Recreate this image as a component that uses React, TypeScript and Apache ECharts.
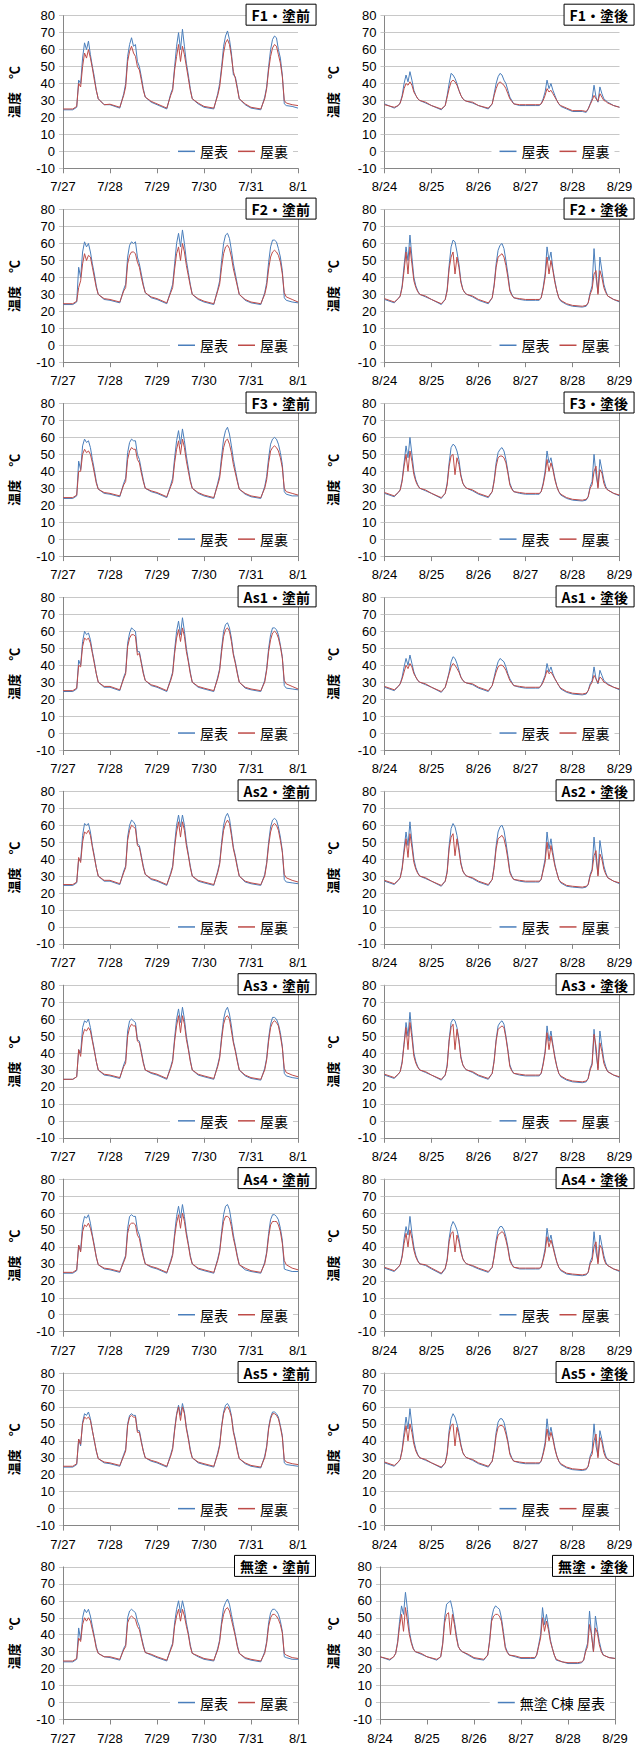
import React, { useEffect, useRef } from 'react';
import * as echarts from 'echarts';

// hours of each day at which a reading is kept (per day), final point at 120 h
const HOURS = [0, 5, 7, 8, 9, 10, 11, 12, 13, 14, 15, 16, 17, 18, 21];
const BEFORE_DATES = ['7/27', '7/28', '7/29', '7/30', '7/31', '8/1'];
const AFTER_DATES = ['8/24', '8/25', '8/26', '8/27', '8/28', '8/29'];
const Y_MIN = -10;
const Y_MAX = 80;
const Y_STEP = 10;

// ---------- 塗前 (before) ----------
const F1_BEFORE_TOP = [
  24.5, 24.5, 26, 42, 40, 55, 64, 60, 65, 57, 50, 44, 36, 31, 27.5,
  27.5, 25.5, 34, 40, 56, 63, 67, 62, 63, 53, 50, 44, 37, 32, 29,
  27.5, 25, 34, 37, 50, 62, 70, 60, 72, 62, 52, 45, 37, 31, 28,
  26, 25, 34, 40, 50, 62, 68, 71, 66, 58, 45, 44, 38, 31, 27.5,
  25.5, 24.5, 32, 38, 50, 60, 66, 68, 67, 60, 55, 45, 28, 27, 26.5,
  25.5];
const F1_BEFORE_BACK = [
  25, 25, 26.5, 40, 38, 50, 58, 55, 60, 55, 49, 42, 36, 31, 27.5,
  27.8, 26, 33, 38, 53, 59, 62, 58, 56, 50, 48, 42, 36, 32, 29.5,
  28, 25.5, 33, 36, 48, 56, 63, 53, 62, 57, 50, 43, 36, 31, 28.5,
  26.5, 25.5, 33, 38, 48, 58, 64, 66, 63, 56, 47, 43, 37, 31, 28,
  26, 25, 31, 37, 48, 56, 61, 63, 62, 57, 52, 44, 30, 28.5, 27.5,
  27];
const F2_BEFORE_TOP = [
  24, 24, 25.5, 46, 40, 55, 61, 58, 60, 55, 48, 42, 35, 30, 27,
  26.5, 25, 33, 36, 52, 59, 61, 60, 61, 52, 48, 42, 36, 31, 28,
  27, 24.5, 32, 36, 48, 60, 66, 58, 68, 60, 50, 43, 36, 30, 27,
  25.5, 24, 33, 38, 50, 60, 65, 66, 63, 56, 48, 42, 36, 30, 26.5,
  25, 24, 31, 37, 49, 58, 62, 62, 61, 57, 52, 44, 28, 26.5, 25.5,
  25];
const F2_BEFORE_BACK = [
  24.5, 24.5, 26, 34, 38, 48, 54, 50, 53, 52, 46, 40, 34, 30, 27.5,
  27, 25.5, 32, 34, 48, 53, 55, 55, 54, 49, 46, 40, 35, 31, 28.5,
  27.5, 25, 31, 34, 45, 54, 58, 50, 60, 55, 47, 41, 35, 30, 27.5,
  26, 24.5, 32, 36, 46, 54, 58, 59, 57, 52, 45, 40, 35, 30, 27,
  25.5, 24.5, 30, 35, 45, 52, 55, 56, 55, 53, 49, 42, 31, 28.5, 27,
  25.5];
const F3_BEFORE_TOP = [
  24, 24, 25.5, 46, 41, 55, 59, 57, 58, 54, 47, 41, 34, 29.5, 27,
  26.5, 25, 33, 36, 51, 57, 59, 58, 58, 50, 47, 41, 35, 30, 28,
  27, 24.5, 32, 36, 48, 58, 64, 56, 65, 58, 49, 42, 35, 30, 27,
  25.5, 24, 33, 38, 49, 59, 64, 66, 62, 55, 47, 41, 35, 29.5, 26.5,
  25, 24, 31, 37, 48, 56, 59, 60, 59, 56, 51, 44, 28, 26.5, 25.5,
  25.5];
const F3_BEFORE_BACK = [
  24.5, 24.5, 26, 40, 40, 50, 53, 51, 52, 50, 45, 39, 33, 29.5, 27.5,
  27, 25.5, 32, 34, 47, 52, 54, 53, 53, 47, 45, 39, 34, 30, 28.5,
  27.5, 25, 31, 34, 45, 53, 58, 50, 59, 54, 46, 40, 34, 30, 27.5,
  26, 24.5, 32, 36, 46, 54, 58, 59, 56, 51, 44, 39, 34, 29.5, 27,
  25.5, 24.5, 30, 35, 45, 52, 54, 55, 54, 52, 48, 42, 30, 28, 27,
  26];
const AS1_BEFORE_TOP = [
  24.5, 24.5, 26, 43, 40, 54, 60, 58, 59, 55, 48, 42, 35, 30, 27,
  27, 25, 33, 36, 53, 59, 62, 61, 60, 48, 48, 42, 36, 31, 28,
  27, 24.5, 32, 36, 49, 60, 66, 58, 68, 60, 50, 43, 36, 30, 27,
  26, 24.5, 33, 38, 50, 60, 64, 65, 62, 56, 47, 42, 36, 30, 26.5,
  25.5, 24.5, 31, 38, 50, 58, 62, 62, 61, 58, 52, 45, 28, 26.5, 26,
  25.5];
const AS1_BEFORE_BACK = [
  25, 25, 26.5, 40, 39, 51, 56, 55, 56, 53, 47, 41, 35, 30, 27.5,
  27.5, 25.5, 32, 35, 51, 56, 58, 58, 57, 46, 47, 41, 35, 31, 28.5,
  27.5, 25, 31, 35, 47, 56, 61, 54, 62, 57, 48, 42, 35, 30, 27.5,
  26.5, 25, 32, 37, 48, 57, 61, 62, 60, 54, 46, 41, 35, 30, 27,
  26, 25, 30, 37, 48, 55, 59, 60, 59, 56, 51, 44, 31, 29, 27.5,
  26];
const AS2_BEFORE_TOP = [
  24.5, 24.5, 26, 40, 39, 54, 61, 60, 61, 56, 48, 42, 35, 30, 27,
  27, 25, 33, 36, 53, 60, 63, 62, 60, 49, 48, 42, 36, 31, 28,
  27, 24.5, 32, 36, 49, 60, 66, 59, 66, 60, 50, 43, 36, 30, 27,
  26, 24.5, 33, 38, 50, 60, 65, 67, 64, 56, 47, 42, 36, 30, 26.5,
  25.5, 24.5, 31, 38, 50, 59, 63, 64, 63, 59, 53, 45, 28, 26.5, 26,
  25.5];
const AS2_BEFORE_BACK = [
  25, 25, 26.5, 41, 38, 50, 56, 55, 57, 54, 47, 41, 35, 30, 27.5,
  27.5, 25.5, 32, 35, 51, 57, 60, 59, 58, 48, 47, 41, 35, 31, 28.5,
  27.5, 25, 31, 35, 47, 56, 62, 53, 62, 57, 48, 42, 35, 30, 27.5,
  26.5, 25, 32, 37, 48, 57, 61, 63, 61, 54, 46, 41, 35, 30, 27,
  26, 25, 30, 37, 48, 56, 60, 61, 60, 57, 51, 44, 31, 29, 27.5,
  26.5];
const AS3_BEFORE_TOP = [
  24.5, 24.5, 26, 42, 40, 55, 59, 58, 60, 55, 48, 42, 35, 30, 27,
  26.5, 25, 33, 36, 53, 59, 60, 59, 58, 48, 47, 41, 35, 30, 28,
  27, 24.5, 32, 36, 49, 60, 66, 58, 67, 60, 50, 43, 36, 30, 27,
  26, 24.5, 33, 38, 50, 60, 65, 67, 63, 56, 47, 42, 36, 30, 26.5,
  25, 24, 31, 37, 49, 57, 61, 61, 60, 57, 52, 44, 28, 26.5, 25.5,
  25];
const AS3_BEFORE_BACK = [
  24.5, 24.5, 26, 42, 38, 50, 54, 53, 55, 53, 47, 41, 35, 30, 27.5,
  27, 25.5, 32, 34, 50, 55, 57, 56, 56, 47, 46, 40, 34, 30, 28.5,
  27.5, 25, 31, 35, 47, 56, 62, 52, 62, 57, 48, 42, 35, 30, 27.5,
  26.5, 25, 32, 37, 48, 57, 61, 62, 60, 53, 46, 41, 35, 30, 27,
  25.5, 24.5, 30, 36, 47, 55, 58, 59, 58, 56, 50, 43, 31, 28.5, 27,
  26];
const AS4_BEFORE_TOP = [
  24.5, 24.5, 26, 41, 38, 53, 58, 57, 59, 54, 47, 41, 34, 29.5, 27,
  26.5, 25, 32, 35, 51, 58, 59, 58, 58, 50, 47, 41, 35, 30, 28,
  27, 24.5, 32, 36, 48, 58, 64, 57, 65, 58, 49, 42, 35, 30, 27,
  26, 24.5, 33, 38, 49, 59, 64, 65, 62, 55, 47, 41, 35, 29.5, 26.5,
  25.5, 24.5, 31, 37, 48, 56, 59, 59, 58, 56, 51, 44, 27, 26.5, 25.5,
  25.5];
const AS4_BEFORE_BACK = [
  25, 25, 26.5, 41, 37, 49, 53, 52, 54, 51, 46, 40, 34, 29.5, 27.5,
  27, 25.5, 31, 34, 48, 53, 54, 54, 53, 47, 45, 39, 34, 30, 28.5,
  27.5, 25, 31, 35, 46, 54, 59, 51, 60, 55, 47, 41, 34, 30, 27.5,
  26.5, 25, 32, 37, 47, 55, 58, 58, 57, 52, 45, 40, 34, 29.5, 27.5,
  26, 25, 30, 36, 46, 53, 55, 55, 55, 53, 49, 42, 32, 29.5, 27.5,
  26.5];
const AS5_BEFORE_TOP = [
  24.5, 24.5, 26, 41, 37, 51, 56, 55, 57, 53, 46, 40, 34, 29.5, 27,
  26.5, 25, 32, 35, 50, 55, 56, 55, 55, 46, 46, 40, 34, 30, 28,
  27, 24.5, 32, 36, 47, 56, 61, 55, 62, 57, 48, 42, 35, 30, 27,
  26, 24.5, 33, 38, 49, 57, 61, 62, 60, 55, 46, 41, 35, 29.5, 26.5,
  25, 24, 31, 37, 48, 54, 57, 57, 56, 54, 49, 43, 27, 26, 25.5,
  25];
const AS5_BEFORE_BACK = [
  25, 25, 26.5, 41, 38, 50, 54, 53, 54, 52, 46, 40, 34, 29.5, 27.5,
  27, 25.5, 31, 34, 49, 54, 55, 54, 54, 45, 45, 39, 34, 30, 28.5,
  27.5, 25, 31, 35, 46, 55, 60, 52, 60, 56, 47, 41, 34, 30, 27.5,
  26.5, 25, 32, 37, 48, 56, 59, 60, 58, 54, 45, 40, 34, 29.5, 27,
  25.5, 24.5, 30, 36, 47, 53, 56, 56, 55, 53, 48, 42, 29, 27.5, 26.5,
  26];
const MUTO_BEFORE_TOP = [
  24, 24, 25.5, 44, 37, 50, 55, 53, 55, 51, 45, 39, 33, 29, 27,
  26.5, 25, 32, 34, 50, 54, 55, 54, 53, 48, 45, 39, 34, 29.5, 28,
  26.5, 24.5, 32, 35, 47, 55, 60, 53, 60, 55, 47, 41, 34, 29, 27,
  25.5, 24.5, 32, 37, 48, 56, 59, 61, 58, 52, 46, 40, 34, 29, 26,
  25, 24, 30, 36, 47, 53, 55, 55, 54, 52, 48, 42, 27, 26.5, 25.5,
  25.5];
const MUTO_BEFORE_BACK = [
  24.5, 24.5, 26, 38, 36, 46, 50, 48, 50, 48, 43, 38, 32, 29, 27,
  27, 25.5, 31, 33, 47, 50, 51, 50, 49, 45, 43, 38, 33, 29.5, 28.5,
  27, 25, 31, 34, 45, 51, 55, 48, 55, 51, 45, 40, 33, 29, 27.5,
  26, 25, 31, 36, 46, 52, 55, 56, 54, 49, 44, 39, 33, 29, 26.5,
  25.5, 24.5, 29, 35, 45, 50, 52, 52, 51, 49, 46, 41, 29, 28, 26.5,
  26];

// ---------- 塗後 (after) ----------
const F1_AFTER_TOP = [
  28, 25.5, 27, 28.5, 33, 40, 45, 41, 47, 42, 36, 33, 31, 30, 28.5,
  27, 24.5, 27, 33, 40, 46, 45, 43, 40, 36, 33, 31, 30, 29.5, 28.5,
  27, 25, 28, 34, 40, 44, 46, 45, 42, 40, 36, 32, 30, 28, 27,
  27, 27, 27, 28, 31, 35, 42, 37, 40, 36, 33, 30, 28, 26.5, 25,
  23.5, 23.5, 23, 25, 28, 31, 39, 32, 29, 38, 34, 31, 30, 29, 27,
  26];
const F1_AFTER_BACK = [
  27.5, 26, 27, 28.5, 32, 37, 40, 39, 41, 39, 35, 33, 31, 30, 29,
  27, 25, 27, 32, 37, 41, 42, 41, 39, 36, 33, 31, 30, 29.5, 29,
  27, 25.5, 28, 33, 37, 40, 41, 40, 39, 37, 34, 31, 29.5, 28, 27.5,
  27.5, 27.5, 27.5, 28, 30, 33, 37, 35, 36, 34, 32, 30, 28, 27, 25.5,
  24, 24, 23.5, 25, 27.5, 30, 33, 31, 29.5, 34, 32, 30, 29.5, 28.5, 27,
  26];
const F2_AFTER_TOP = [
  27, 25, 27.5, 29, 35, 47, 58, 50, 65, 52, 40, 35, 32, 30, 28.5,
  27, 24, 27, 33, 47, 58, 62, 61, 55, 48, 38, 33, 31, 30, 28.5,
  26.5, 24.5, 28, 36, 48, 56, 59, 60, 57, 50, 42, 33, 30, 28, 27,
  26.5, 26.5, 26.5, 28, 34, 42, 58, 50, 55, 45, 38, 32, 28, 26, 24,
  23, 22.5, 23, 25, 31, 35, 57, 40, 31, 52, 44, 36, 32, 29, 27,
  25.5];
const F2_AFTER_BACK = [
  27.5, 25.5, 27.5, 29, 34, 44, 55, 42, 58, 48, 38, 34, 31.5, 30, 29,
  27, 24.5, 27, 32, 45, 52, 55, 42, 52, 46, 37, 33, 31, 30, 29,
  27, 25, 28, 35, 46, 52, 53, 54, 52, 47, 40, 32, 29.5, 28, 27.5,
  27, 27, 27, 28, 33, 40, 52, 42, 50, 44, 37, 32, 28, 26.5, 24.5,
  23.5, 23, 23.5, 25, 30, 33, 42, 44, 30, 44, 40, 34, 31, 29, 27,
  26];
const F3_AFTER_TOP = [
  27, 25, 27.5, 29, 35, 45, 55, 48, 60, 50, 40, 35, 32, 30, 28.5,
  27, 24, 27, 33, 45, 54, 56, 55, 52, 47, 38, 33, 31, 30, 28.5,
  26.5, 24.5, 28, 35, 45, 51, 53, 54, 52, 47, 40, 33, 30, 28, 27,
  26.5, 26.5, 26.5, 28, 33, 40, 52, 45, 48, 42, 36, 31, 28, 26, 24,
  23, 22.5, 23, 25, 31, 34, 50, 38, 31, 47, 41, 35, 31, 29, 27,
  25.5];
const F3_AFTER_BACK = [
  27.5, 25.5, 27.5, 29, 34, 43, 50, 40, 52, 46, 38, 34, 31.5, 30, 29,
  27, 24.5, 27, 32, 43, 49, 50, 38, 48, 44, 37, 33, 31, 30, 29,
  27, 25, 28, 34, 43, 48, 49, 49, 48, 45, 39, 32, 29.5, 28, 27.5,
  27, 27, 27, 28, 32, 38, 47, 40, 45, 41, 35, 31, 28, 26.5, 24.5,
  23.5, 23, 23.5, 25, 30, 32, 40, 43, 30, 41, 39, 33, 30, 29, 27,
  26];
const AS1_AFTER_TOP = [
  27, 25, 27.5, 29, 33, 39, 44, 40, 46, 41, 36, 33, 31, 30, 28.5,
  27, 24, 27, 31, 36, 42, 45, 44, 41, 37, 33, 31, 30, 29.5, 28.5,
  26.5, 24.5, 28, 33, 38, 42, 44, 43, 42, 39, 35, 32, 30, 28, 27,
  26.5, 26.5, 26.5, 28, 31, 34, 41, 36, 39, 35, 32, 30, 28, 26, 24,
  23, 22.5, 23, 25, 29, 31, 39, 32, 29, 37, 34, 31, 30, 29, 27,
  25.5];
const AS1_AFTER_BACK = [
  27.5, 25.5, 27.5, 29, 32, 36, 40, 38, 41, 39, 35, 33, 31, 30, 29,
  27, 24.5, 27, 31, 35, 39, 41, 40, 38, 36, 33, 31, 30, 29.5, 29,
  27, 25, 28, 32, 36, 39, 40, 40, 39, 37, 34, 31, 29.5, 28, 27.5,
  27, 27, 27, 28, 30, 33, 37, 35, 36, 34, 32, 30, 28, 26.5, 24.5,
  23.5, 23, 23.5, 25, 28, 30, 34, 32, 29.5, 33, 32, 30, 29.5, 28.5, 27,
  26];
const AS2_AFTER_TOP = [
  27, 25, 27.5, 29, 35, 46, 56, 48, 62, 50, 40, 35, 32, 30, 28.5,
  27, 24, 27, 33, 48, 58, 61, 59, 54, 47, 38, 33, 31, 30, 28.5,
  26.5, 24.5, 28, 36, 48, 56, 59, 60, 57, 50, 42, 33, 30, 28, 27,
  26.5, 26.5, 26.5, 28, 34, 40, 56, 46, 52, 44, 37, 32, 28, 26, 24,
  23.5, 23, 23.5, 25, 31, 34, 53, 40, 31, 51, 43, 36, 32, 29, 27,
  25.5];
const AS2_AFTER_BACK = [
  27.5, 25.5, 27.5, 29, 34, 44, 52, 41, 55, 47, 38, 34, 31.5, 30, 29,
  27, 24.5, 27, 32, 46, 53, 55, 42, 52, 45, 37, 33, 31, 30, 29,
  27, 25, 28, 35, 46, 52, 53, 54, 52, 47, 40, 32, 29.5, 28, 27.5,
  27, 27, 27, 28, 33, 38, 50, 40, 48, 42, 36, 32, 28, 26.5, 24.5,
  24, 23.5, 24, 25, 30, 33, 42, 45, 30, 43, 40, 34, 31, 29, 27,
  26];
const AS3_AFTER_TOP = [
  27, 25, 27.5, 29, 35, 46, 58, 50, 64, 52, 40, 35, 32, 30, 28.5,
  27, 24, 27, 33, 48, 58, 60, 59, 55, 48, 38, 33, 31, 30, 28.5,
  26.5, 24.5, 28, 36, 48, 56, 58, 59, 57, 50, 42, 33, 30, 28, 27,
  26.5, 26.5, 26.5, 28, 34, 41, 56, 47, 53, 45, 38, 32, 28, 26, 24,
  23, 22.5, 23, 25, 31, 34, 54, 40, 31, 53, 44, 36, 32, 29, 27,
  25.5];
const AS3_AFTER_BACK = [
  27.5, 25.5, 27.5, 29, 34, 45, 55, 42, 58, 49, 38, 34, 31.5, 30, 29,
  27, 24.5, 27, 32, 47, 55, 57, 42, 54, 47, 37, 33, 31, 30, 29,
  27, 25, 28, 35, 47, 54, 55, 56, 55, 49, 41, 32, 29.5, 28, 27.5,
  27, 27, 27, 28, 33, 40, 52, 42, 50, 44, 37, 32, 28, 26.5, 24.5,
  23.5, 23, 23.5, 25, 30, 33, 51, 44, 30, 46, 41, 34, 31, 29, 27,
  26];
const AS4_AFTER_TOP = [
  27.5, 25.5, 28, 29.5, 35, 45, 52, 47, 58, 48, 40, 35, 32, 30, 29,
  27, 24, 27, 33, 45, 52, 55, 53, 50, 45, 38, 33, 31, 30, 28.5,
  27, 25, 28, 35, 44, 50, 52, 52, 50, 46, 40, 33, 30, 28, 27,
  27, 27, 27, 28, 33, 39, 51, 43, 47, 41, 36, 31, 28, 26, 24,
  23.5, 23, 23.5, 25, 31, 34, 49, 37, 31, 47, 41, 35, 31, 29, 27,
  25.5];
const AS4_AFTER_BACK = [
  28, 26, 28, 29.5, 34, 42, 48, 40, 50, 45, 38, 34, 31.5, 30, 29.5,
  27.5, 24.5, 27.5, 32, 43, 48, 49, 37, 47, 43, 37, 33, 31, 30, 29,
  27.5, 25.5, 28, 34, 42, 47, 48, 49, 48, 44, 39, 32, 29.5, 28, 27.5,
  27.5, 27.5, 27.5, 28, 32, 37, 46, 40, 44, 40, 35, 31, 28, 26.5, 24.5,
  24, 23.5, 24, 25, 30, 32, 40, 43, 30, 41, 39, 33, 30, 29, 27,
  26];
const AS5_AFTER_TOP = [
  27, 25, 27.5, 29, 35, 45, 54, 47, 59, 49, 40, 35, 32, 30, 28.5,
  27, 24, 27, 33, 46, 53, 56, 54, 50, 45, 38, 33, 31, 30, 28.5,
  26.5, 24.5, 28, 35, 45, 51, 53, 53, 51, 46, 40, 33, 30, 28, 27,
  26.5, 26.5, 26.5, 28, 33, 39, 53, 43, 48, 42, 36, 31, 28, 26, 24,
  23, 22.5, 23, 25, 31, 34, 50, 37, 31, 46, 41, 35, 31, 29, 27,
  25.5];
const AS5_AFTER_BACK = [
  27.5, 25.5, 27.5, 29, 34, 42, 49, 40, 50, 45, 38, 34, 31.5, 30, 29,
  27, 24.5, 27, 32, 44, 49, 50, 37, 48, 43, 37, 33, 31, 30, 29,
  27, 25, 28, 34, 43, 48, 49, 49, 48, 44, 39, 32, 29.5, 28, 27.5,
  27, 27, 27, 28, 32, 37, 47, 40, 45, 41, 35, 31, 28, 26.5, 24.5,
  23.5, 23, 23.5, 25, 30, 32, 40, 44, 30, 42, 39, 33, 30, 29, 27,
  26];
const MUTO_AFTER_TOP = [
  27, 25, 27, 29, 36, 48, 57, 52, 65, 55, 42, 36, 32, 30, 28.5,
  27, 25, 27, 35, 50, 58, 59, 60, 55, 48, 40, 33, 31, 30, 28,
  26, 25, 28, 37, 50, 55, 57, 56, 55, 50, 42, 33, 30, 28, 27,
  26, 26, 26, 28, 34, 40, 56, 46, 52, 45, 37, 32, 28, 25, 24,
  23, 23, 23.5, 25, 31, 35, 54, 40, 30, 51, 43, 36, 31, 28, 26.5,
  26];
const MUTO_AFTER_BACK = [
  27, 25.5, 27, 29, 35, 45, 52, 42, 56, 48, 40, 35, 31.5, 30, 29,
  27, 25.5, 27, 34, 47, 52, 53, 40, 52, 46, 38, 33, 31, 30, 28.5,
  26.5, 25.5, 28, 36, 48, 51, 52, 52, 51, 48, 40, 32, 29.5, 28, 27.5,
  26.5, 26.5, 26.5, 28, 33, 38, 50, 42, 48, 43, 36, 32, 28, 25.5, 24,
  23.5, 23.5, 24, 25, 30, 33, 46, 40, 30, 44, 41, 34, 30, 28, 26.5,
  26];

const TOP_NAME = '屋表';
const BACK_NAME = '屋裏';
const MUTO_TOP_NAME = '無塗 C棟 屋表';
const Y_NAME = '温度　℃';

const PANELS = [
  { title: 'F1・塗前', dates: BEFORE_DATES, top: F1_BEFORE_TOP, back: F1_BEFORE_BACK, topName: TOP_NAME, legend: [TOP_NAME, BACK_NAME] },
  { title: 'F1・塗後', dates: AFTER_DATES, top: F1_AFTER_TOP, back: F1_AFTER_BACK, topName: TOP_NAME, legend: [TOP_NAME, BACK_NAME] },
  { title: 'F2・塗前', dates: BEFORE_DATES, top: F2_BEFORE_TOP, back: F2_BEFORE_BACK, topName: TOP_NAME, legend: [TOP_NAME, BACK_NAME] },
  { title: 'F2・塗後', dates: AFTER_DATES, top: F2_AFTER_TOP, back: F2_AFTER_BACK, topName: TOP_NAME, legend: [TOP_NAME, BACK_NAME] },
  { title: 'F3・塗前', dates: BEFORE_DATES, top: F3_BEFORE_TOP, back: F3_BEFORE_BACK, topName: TOP_NAME, legend: [TOP_NAME, BACK_NAME] },
  { title: 'F3・塗後', dates: AFTER_DATES, top: F3_AFTER_TOP, back: F3_AFTER_BACK, topName: TOP_NAME, legend: [TOP_NAME, BACK_NAME] },
  { title: 'As1・塗前', dates: BEFORE_DATES, top: AS1_BEFORE_TOP, back: AS1_BEFORE_BACK, topName: TOP_NAME, legend: [TOP_NAME, BACK_NAME] },
  { title: 'As1・塗後', dates: AFTER_DATES, top: AS1_AFTER_TOP, back: AS1_AFTER_BACK, topName: TOP_NAME, legend: [TOP_NAME, BACK_NAME] },
  { title: 'As2・塗前', dates: BEFORE_DATES, top: AS2_BEFORE_TOP, back: AS2_BEFORE_BACK, topName: TOP_NAME, legend: [TOP_NAME, BACK_NAME] },
  { title: 'As2・塗後', dates: AFTER_DATES, top: AS2_AFTER_TOP, back: AS2_AFTER_BACK, topName: TOP_NAME, legend: [TOP_NAME, BACK_NAME] },
  { title: 'As3・塗前', dates: BEFORE_DATES, top: AS3_BEFORE_TOP, back: AS3_BEFORE_BACK, topName: TOP_NAME, legend: [TOP_NAME, BACK_NAME] },
  { title: 'As3・塗後', dates: AFTER_DATES, top: AS3_AFTER_TOP, back: AS3_AFTER_BACK, topName: TOP_NAME, legend: [TOP_NAME, BACK_NAME] },
  { title: 'As4・塗前', dates: BEFORE_DATES, top: AS4_BEFORE_TOP, back: AS4_BEFORE_BACK, topName: TOP_NAME, legend: [TOP_NAME, BACK_NAME] },
  { title: 'As4・塗後', dates: AFTER_DATES, top: AS4_AFTER_TOP, back: AS4_AFTER_BACK, topName: TOP_NAME, legend: [TOP_NAME, BACK_NAME] },
  { title: 'As5・塗前', dates: BEFORE_DATES, top: AS5_BEFORE_TOP, back: AS5_BEFORE_BACK, topName: TOP_NAME, legend: [TOP_NAME, BACK_NAME] },
  { title: 'As5・塗後', dates: AFTER_DATES, top: AS5_AFTER_TOP, back: AS5_AFTER_BACK, topName: TOP_NAME, legend: [TOP_NAME, BACK_NAME] },
  { title: '無塗・塗前', dates: BEFORE_DATES, top: MUTO_BEFORE_TOP, back: MUTO_BEFORE_BACK, topName: TOP_NAME, legend: [TOP_NAME, BACK_NAME] },
  { title: '無塗・塗後', dates: AFTER_DATES, top: MUTO_AFTER_TOP, back: MUTO_AFTER_BACK, topName: MUTO_TOP_NAME, legend: [MUTO_TOP_NAME] },
];

const W = 637;
const H = 1751;
const BLUE = '#4a7ebb';
const RED = '#be4b48';
const AXIS_COLOR = '#868686';
const GRID_COLOR = '#c8c8c8';
const NUM_FONT = "'Liberation Sans', Arial, sans-serif";
const JP_FONT = "'Noto Sans CJK JP', sans-serif";

function toPairs(vals: number[]): number[][] {
  const out: number[][] = [];
  const n = HOURS.length;
  for (let i = 0; i < vals.length - 1; i++) {
    const d = Math.floor(i / n);
    out.push([d * 24 + HOURS[i % n], vals[i]]);
  }
  out.push([120, vals[vals.length - 1]]);
  return out;
}

function buildOption() {
  const grid: any[] = [];
  const xAxis: any[] = [];
  const yAxis: any[] = [];
  const series: any[] = [];
  const legend: any[] = [];
  const title: any[] = [];

  const ROW0 = 15.7;
  const ROW_STEP = 193.9;
  const PLOT_H = 152.6;
  const PLOT_W = 235;

  PANELS.forEach((p, i) => {
    const row = Math.floor(i / 2);
    const col = i % 2;
    const left = col === 0 ? 63 : (row === 8 ? 380 : 384.5);
    const top = ROW0 + ROW_STEP * row;
    const right = left + PLOT_W;
    const zeroY = top + PLOT_H * (Y_MAX - 0) / (Y_MAX - Y_MIN);
    const nameCenterX = col === 0 ? 13 : 332;

    grid.push({ left, top, width: PLOT_W, height: PLOT_H, containLabel: false });

    xAxis.push({
      type: 'value', gridIndex: i, min: 0, max: 120, interval: 24,
      axisLine: { show: true, onZero: false, lineStyle: { color: AXIS_COLOR, width: 1 } },
      axisTick: { show: true, length: 5, lineStyle: { color: AXIS_COLOR } },
      axisLabel: {
        color: '#000', fontSize: 13, fontFamily: NUM_FONT, margin: 12,
        showMinLabel: true, showMaxLabel: true,
        formatter: (v: number) => p.dates[Math.round(v / 24)] ?? '',
      },
      splitLine: { show: false },
    });

    yAxis.push({
      type: 'value', gridIndex: i, min: Y_MIN, max: Y_MAX, interval: Y_STEP,
      name: Y_NAME, nameLocation: 'middle', nameRotate: 90,
      nameGap: left - nameCenterX - 7,
      nameTextStyle: { color: '#000', fontSize: 13, fontWeight: 'bold', fontFamily: JP_FONT },
      axisLine: { show: true, onZero: false, lineStyle: { color: AXIS_COLOR, width: 1 } },
      axisTick: { show: true, length: 4, lineStyle: { color: GRID_COLOR } },
      axisLabel: { color: '#000', fontSize: 13, fontFamily: NUM_FONT, margin: 8 },
      splitLine: { show: true, lineStyle: { color: GRID_COLOR, width: 1 } },
    });
    yAxis.push({
      type: 'value', gridIndex: i, min: Y_MIN, max: Y_MAX, interval: Y_STEP, position: 'right',
      axisLine: { show: row > 0, onZero: false, lineStyle: { color: AXIS_COLOR, width: 1 } },
      axisTick: { show: false }, axisLabel: { show: false }, splitLine: { show: false },
    });

    series.push({
      type: 'line', name: p.topName, xAxisIndex: i, yAxisIndex: i * 2,
      data: toPairs(p.top), symbol: 'none', showSymbol: false,
      lineStyle: { color: BLUE, width: 1 }, itemStyle: { color: BLUE },
      emphasis: { disabled: true }, silent: true,
    });
    series.push({
      type: 'line', name: BACK_NAME, xAxisIndex: i, yAxisIndex: i * 2,
      data: toPairs(p.back), symbol: 'none', showSymbol: false,
      lineStyle: { color: RED, width: 1 }, itemStyle: { color: RED },
      emphasis: { disabled: true }, silent: true,
    });

    legend.push({
      data: p.legend.map((n) => ({ name: n, icon: 'rect' })),
      right: W - right + 5,
      top: zeroY - 11,
      itemWidth: 17, itemHeight: 1.5, itemGap: 10,
      backgroundColor: '#fff',
      padding: [3, 5, 3, 8],
      selectedMode: false,
      textStyle: { color: '#000', fontSize: 14, fontFamily: JP_FONT, lineHeight: 16 },
    });

    title.push({
      text: p.title,
      right: col === 0 ? W - 316 : 3,
      top: top - 12,
      padding: [3, 6, 2, 6],
      borderColor: '#000', borderWidth: 1,
      backgroundColor: '#fff',
      textStyle: { color: '#000', fontSize: 14, fontWeight: 'bold', fontFamily: JP_FONT, lineHeight: 17 },
    });
  });

  return {
    animation: false,
    backgroundColor: '#fff',
    grid, xAxis, yAxis, series, legend, title,
  };
}

export default function App() {
  const ref = useRef<HTMLDivElement>(null);
  useEffect(() => {
    document.body.style.margin = '0';
    if (!ref.current) return;
    const chart = echarts.init(ref.current, undefined, { renderer: 'svg' });
    chart.setOption(buildOption() as any);
    return () => chart.dispose();
  }, []);
  return <div ref={ref} style={{ width: W, height: H }} />;
}
